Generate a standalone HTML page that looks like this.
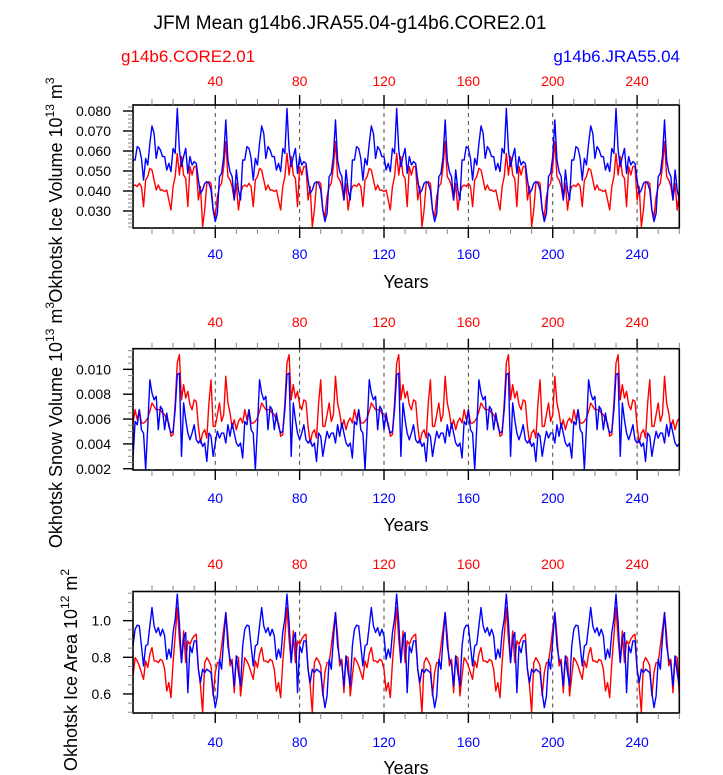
<!DOCTYPE html>
<html><head><meta charset="utf-8"><style>
html,body{margin:0;padding:0;background:#fff}
svg{display:block;font-family:"Liberation Sans",Arial,sans-serif}
</style></head><body>
<svg id="chart" width="723" height="775" viewBox="0 0 723 775" xmlns="http://www.w3.org/2000/svg">
<text x="350" y="29" font-size="19" text-anchor="middle" fill="#000">JFM Mean g14b6.JRA55.04-g14b6.CORE2.01</text>
<text x="121" y="62" font-size="17" fill="#f00">g14b6.CORE2.01</text>
<text x="680" y="62" font-size="17" fill="#00f" text-anchor="end">g14b6.JRA55.04</text>
<g id="panels"></g>
</svg>
<script>
// cycle data (52-year forcing cycle, repeated 5 times over years 1..260)
const volJraCycle=[0.0555,0.0555,0.0622,0.0613,0.0563,0.0455,0.0563,0.053,0.0638,0.0725,0.0688,0.0563,0.0622,0.0605,0.0572,0.0572,0.0505,0.0538,0.0497,0.0613,0.0588,0.0813,0.0605,0.0522,0.0572,0.0613,0.0488,0.0572,0.053,0.0547,0.0538,0.0455,0.0388,0.0405,0.0438,0.0447,0.0438,0.0405,0.0305,0.0247,0.0288,0.0472,0.0488,0.0572,0.0755,0.0555,0.0497,0.0472,0.0355,0.0505,0.0405,0.0355];
const volCoreCycle=[0.0422,0.043,0.0422,0.0438,0.0422,0.0322,0.0455,0.0472,0.0513,0.0505,0.0455,0.0405,0.043,0.0405,0.0405,0.0397,0.0405,0.0355,0.0305,0.0422,0.0472,0.0588,0.048,0.0572,0.048,0.0463,0.0322,0.0522,0.048,0.0522,0.0522,0.0355,0.0422,0.0222,0.0305,0.0438,0.0447,0.0438,0.0305,0.0272,0.0372,0.0422,0.0438,0.0522,0.0647,0.0472,0.0455,0.0422,0.0355,0.0438,0.0305,0.0388];
const snowJraCycle=[0.00286,0.00581,0.00554,0.00675,0.00514,0.00487,0.00192,0.00541,0.00916,0.00809,0.00755,0.00783,0.00514,0.00702,0.00675,0.00514,0.00648,0.00541,0.00487,0.00501,0.00675,0.00957,0.0097,0.003,0.00729,0.00594,0.00487,0.00433,0.00487,0.00554,0.00433,0.00407,0.00433,0.0038,0.00407,0.00259,0.00487,0.00461,0.003,0.00407,0.00501,0.00447,0.00487,0.00487,0.00407,0.00554,0.00461,0.00568,0.00487,0.00407,0.0038,0.00407];
const snowCoreCycle=[0.00568,0.00675,0.00594,0.00675,0.00568,0.00568,0.00581,0.00608,0.00662,0.00729,0.00702,0.00675,0.00675,0.00675,0.00648,0.00635,0.00594,0.00568,0.00461,0.00474,0.00729,0.01051,0.01118,0.00755,0.00876,0.00769,0.00823,0.00715,0.00675,0.00755,0.00742,0.00541,0.00407,0.00487,0.00514,0.00447,0.00729,0.00916,0.00541,0.00541,0.00635,0.00729,0.00581,0.00635,0.00944,0.00729,0.00648,0.00527,0.00594,0.00514,0.00581,0.00608];
const areaJraCycle=[0.862,0.953,0.975,0.971,0.862,0.753,0.862,0.871,0.971,1.071,0.971,0.935,0.962,0.917,0.953,0.917,0.789,0.844,0.798,0.935,1.008,1.144,0.989,0.771,0.899,0.935,0.607,0.862,0.825,0.889,0.889,0.735,0.662,0.735,0.716,0.735,0.726,0.716,0.607,0.525,0.589,0.789,0.735,0.899,1.044,0.862,0.789,0.762,0.644,0.807,0.716,0.644];
const areaCoreCycle=[0.698,0.798,0.780,0.753,0.716,0.680,0.780,0.744,0.817,0.853,0.780,0.780,0.771,0.789,0.780,0.735,0.616,0.662,0.580,0.771,0.917,1.071,0.899,0.771,0.944,0.771,0.889,0.871,0.899,0.917,0.926,0.735,0.644,0.498,0.771,0.798,0.780,0.753,0.589,0.716,0.771,0.771,0.862,0.953,1.044,0.917,0.753,0.789,0.607,0.807,0.798,0.589];
const volJra=[...volJraCycle,...volJraCycle,...volJraCycle,...volJraCycle,...volJraCycle];
const volCore=[...volCoreCycle,...volCoreCycle,...volCoreCycle,...volCoreCycle,...volCoreCycle];
const snowJra=[...snowJraCycle,...snowJraCycle,...snowJraCycle,...snowJraCycle,...snowJraCycle];
const snowCore=[...snowCoreCycle,...snowCoreCycle,...snowCoreCycle,...snowCoreCycle,...snowCoreCycle];
const areaJra=[...areaJraCycle,...areaJraCycle,...areaJraCycle,...areaJraCycle,...areaJraCycle];
const areaCore=[...areaCoreCycle,...areaCoreCycle,...areaCoreCycle,...areaCoreCycle,...areaCoreCycle];
const xTickLabels=[40,80,120,160,200,240];
const volTickLabels=["0.080","0.070","0.060","0.050","0.040","0.030"];
const snowTickLabels=["0.010","0.008","0.006","0.004","0.002"];
const areaTickLabels=["1.0","0.8","0.6"];

const NS="http://www.w3.org/2000/svg";
const root=document.getElementById('panels');
function mk(tag,attrs,parent){const e=document.createElementNS(NS,tag);for(const k in attrs)e.setAttribute(k,attrs[k]);(parent||root).appendChild(e);return e;}
const X0=133,X1=679.3,XMIN=1,XMAX=260;
function xs(v){return X0+(v-XMIN)/(XMAX-XMIN)*(X1-X0);}

const panels=[
 {name:'ice-volume',top:105,bot:228,ymin:0.0215,ymax:0.083,maj:0.01,minStep:0.002,labels:volTickLabels,jra:volJra,core:volCore,topLblY:86,botLblY:259,yearsY:288,titleX:62,titleY:190,title:['Okhotsk Ice Volume 10','13',' m','3']},
 {name:'snow-volume',top:348.7,bot:470,ymin:0.0019,ymax:0.01166,maj:0.002,minStep:0.0005,labels:snowTickLabels,jra:snowJra,core:snowCore,topLblY:327,botLblY:503,yearsY:531,titleX:62,titleY:425,title:['Okhotsk Snow Volume 10','13',' m','3']},
 {name:'ice-area',top:591.5,bot:713,ymin:0.496,ymax:1.159,maj:0.2,minStep:0.05,labels:areaTickLabels,jra:areaJra,core:areaCore,topLblY:569,botLblY:747,yearsY:774,titleX:77,titleY:670,title:['Okhotsk Ice Area 10','12',' m','2']}
];
panels.forEach(p=>{
 const g=mk('g',{});
 
 
 const ys=v=>p.bot-(v-p.ymin)/(p.ymax-p.ymin)*(p.bot-p.top);
 xTickLabels.forEach(t=>{const l=mk('line',{x1:xs(t),x2:xs(t),y1:p.top,y2:p.bot,stroke:'#444','stroke-width':1,'stroke-dasharray':'4,4'},g);
  
  });
 [['core','#f00'],['jra','#00f']].forEach(([k,c])=>{
  const arr=p[k];
  const d=arr.map((v,i)=>(i?'L':'M')+xs(i+1).toFixed(2)+','+ys(v).toFixed(2)).join('');
  const path=mk('path',{d:d,fill:'none',stroke:c,'stroke-width':1.4,'stroke-linejoin':'round'},g);
  
  
 });
 const fr=mk('rect',{x:X0,y:p.top,width:X1-X0,height:p.bot-p.top,fill:'none',stroke:'#000','stroke-width':1.6},g);
 
 
 for(let t=10;t<=XMAX;t+=10){const x=xs(t);const major=t%40===0;const len=major?10:6;
  mk('line',{x1:x,x2:x,y1:p.top,y2:p.top-len,stroke:major?'#000':'#888','stroke-width':major?1.4:1},g);
  mk('line',{x1:x,x2:x,y1:p.bot,y2:p.bot+len,stroke:major?'#000':'#888','stroke-width':major?1.4:1},g);}
 xTickLabels.forEach(t=>{
  const a=mk('text',{x:xs(t),y:p.topLblY,'font-size':14,fill:'#f00','text-anchor':'middle'},g);a.textContent=t;
  
  
  const b=mk('text',{x:xs(t),y:p.botLblY,'font-size':14,fill:'#00f','text-anchor':'middle'},g);b.textContent=t;
  
  
 });
 const yr=mk('text',{x:406,y:p.yearsY,'font-size':18,fill:'#000','text-anchor':'middle'},g);yr.textContent='Years';
 
 
 const n=Math.round((p.ymax-p.ymin)/p.minStep)+2;
 const start=Math.ceil(p.ymin/p.minStep-1e-6)*p.minStep;
 for(let i=0;i<n;i++){const v=start+i*p.minStep;if(v>p.ymax)break;
  const ratio=v/p.maj;const major=Math.abs(ratio-Math.round(ratio))<1e-6;
  const y=ys(v);mk('line',{x1:X0,x2:X0-(major?10:5),y1:y,y2:y,stroke:major?'#000':'#888','stroke-width':major?1.4:1},g);}
 p.labels.forEach(s=>{const v=parseFloat(s);const t=mk('text',{x:111,y:ys(v)+5,'font-size':14,fill:'#000','text-anchor':'end'},g);t.textContent=s;
  
  });
 const tt=mk('text',{x:p.titleX,y:p.titleY,'font-size':18,fill:'#000','text-anchor':'middle',transform:'rotate(-90 '+p.titleX+' '+p.titleY+')'},g);
 
 
 p.title.forEach((s,i)=>{const ts=mk('tspan',{},tt);if(i%2===1){ts.setAttribute('font-size','12');ts.setAttribute('dy','-8');}else if(i>0){ts.setAttribute('dy','8');}ts.textContent=s;});
});
</script>
</body></html>
